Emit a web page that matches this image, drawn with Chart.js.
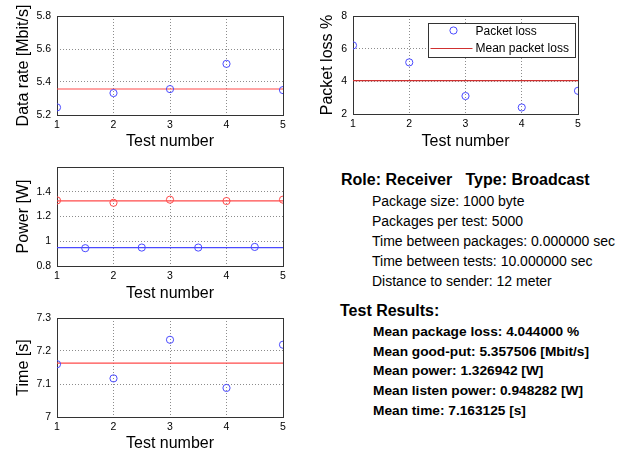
<!DOCTYPE html>
<html>
<head>
<meta charset="utf-8">
<script src="https://cdn.jsdelivr.net/npm/chart.js@4.4.1/dist/chart.umd.min.js"></script>
<style>
  html, body { margin: 0; padding: 0; background: #fff; }
  #root { position: relative; width: 644px; height: 453px; overflow: hidden; background: #fff;
          font-family: Arial, "Liberation Sans", Helvetica, sans-serif; color: #000; }
  .pane { position: absolute; }
  .txt { position: absolute; white-space: pre; line-height: 20px; }
  .h { font-weight: bold; font-size: 16px; }
  .p { font-size: 14px; }
  .b { font-weight: bold; font-size: 13.7px; }
</style>
</head>
<body>
<div id="root">
  <div class="pane" style="left:0;top:0;width:300px;height:155px"><canvas id="c1" width="300" height="155"></canvas></div>
  <div class="pane" style="left:300px;top:0;width:300px;height:155px"><canvas id="c2" width="300" height="155"></canvas></div>
  <div class="pane" style="left:0;top:152px;width:300px;height:155px"><canvas id="c3" width="300" height="155"></canvas></div>
  <div class="pane" style="left:0;top:302px;width:300px;height:151px"><canvas id="c4" width="300" height="151"></canvas></div>

  <div class="txt h" style="left:341px;top:170px">Role: Receiver   Type: Broadcast</div>
  <div class="txt p" style="left:372px;top:191px">Package size: 1000 byte</div>
  <div class="txt p" style="left:372px;top:211px">Packages per test: 5000</div>
  <div class="txt p" style="left:372px;top:231px">Time between packages: 0.000000 sec</div>
  <div class="txt p" style="left:372px;top:251px">Time between tests: 10.000000 sec</div>
  <div class="txt p" style="left:372px;top:271px">Distance to sender: 12 meter</div>

  <div class="txt h" style="left:340px;top:301px">Test Results:</div>
  <div class="txt b" style="left:373px;top:322px">Mean package loss: 4.044000 %</div>
  <div class="txt b" style="left:373px;top:342px">Mean good-put: 5.357506 [Mbit/s]</div>
  <div class="txt b" style="left:373px;top:361px">Mean power: 1.326942 [W]</div>
  <div class="txt b" style="left:373px;top:381px">Mean listen power: 0.948282 [W]</div>
  <div class="txt b" style="left:373px;top:401px">Mean time: 7.163125 [s]</div>
</div>
<script>
// ---- data ----
const testNumbers = [1, 2, 3, 4, 5];
const dataRate = [5.246, 5.333, 5.357, 5.510, 5.351];
const meanDataRate = 5.357506;
const packetLoss = [6.20, 5.16, 3.10, 2.40, 3.42];
const meanPacketLoss = 4.044;
const power = [1.330, 1.311, 1.336, 1.325, 1.336];
const meanPower = 1.326942;
const listenX = [1.5, 2.5, 3.5, 4.5];
const listenPower = [0.944, 0.949, 0.949, 0.954];
const meanListenPower = 0.948282;
const timeS = [7.160, 7.117, 7.234, 7.088, 7.219];
const meanTime = 7.163125;

const FONT = 'Arial, "Liberation Sans", Helvetica, sans-serif';
const BLUE = '#4a4aff';
const RED = '#ff4a4a';

function pts(xs, ys) { return xs.map((x, i) => ({ x: x, y: ys[i] })); }
function meanLine(v) { return [{ x: testNumbers[0], y: v }, { x: testNumbers[testNumbers.length - 1], y: v }]; }
function markers(label, xs, ys, color) {
  return { label: label, data: pts(xs, ys), showLine: false, pointStyle: 'circle', pointRadius: 3.6,
           pointHoverRadius: 3.6, borderColor: color, backgroundColor: 'rgba(0,0,0,0)', pointBorderWidth: 1, borderWidth: 1 };
}
function line(label, v, color) {
  return { label: label, data: meanLine(v), showLine: true, pointRadius: 0, borderColor: color,
           borderWidth: 1.2, backgroundColor: color };
}

const boxPlugin = {
  id: 'box',
  beforeDatasetsDraw(chart) {
    const a = chart.chartArea, ctx = chart.ctx;
    ctx.save();
    ctx.strokeStyle = '#333';
    ctx.lineWidth = 1;
    ctx.strokeRect(Math.round(a.left) + 0.5, Math.round(a.top) + 0.5,
                   Math.round(a.right) - Math.round(a.left), Math.round(a.bottom) - Math.round(a.top));
    ctx.restore();
  }
};

const legendPlugin = {
  id: 'boxLegend',
  afterDatasetsDraw(chart, args, opts) {
    if (!opts || !opts.show) return;
    const a = chart.chartArea, ctx = chart.ctx;
    const w = 147, h = 34;
    const left = Math.round(a.right - 3 - w) + 0.5, top = Math.round(a.top + 7) + 0.5;
    ctx.save();
    ctx.fillStyle = '#fff';
    ctx.fillRect(left, top, w, h);
    ctx.strokeStyle = '#333';
    ctx.lineWidth = 1;
    ctx.strokeRect(left, top, w, h);
    const ds = chart.data.datasets;
    ctx.font = '12px ' + FONT;
    ctx.fillStyle = '#000';
    ctx.textBaseline = 'middle';
    // item 1: marker
    ctx.beginPath();
    ctx.strokeStyle = ds[0].borderColor;
    ctx.arc(left + 25, top + 7, 3.6, 0, Math.PI * 2);
    ctx.stroke();
    ctx.fillText(ds[0].label, left + 47, top + 8);
    // item 2: line
    ctx.beginPath();
    ctx.strokeStyle = ds[1].borderColor;
    ctx.lineWidth = 1.2;
    ctx.moveTo(left + 2, top + 25);
    ctx.lineTo(left + 44, top + 25);
    ctx.stroke();
    ctx.fillText(ds[1].label, left + 47, top + 25);
    ctx.restore();
  }
};

function fmt(v) { return String(Number(v.toFixed(3))); }

function makeChart(id, c) {
  const W = c.W, H = c.H;
  return new Chart(document.getElementById(id), {
    type: 'scatter',
    data: { datasets: c.datasets },
    plugins: [boxPlugin, legendPlugin],
    options: {
      responsive: false,
      animation: false,
      events: [],
      layout: { padding: { top: c.area.top, right: W - c.area.right, left: 0, bottom: 0 } },
      plugins: { legend: { display: false }, tooltip: { enabled: false }, boxLegend: { show: !!c.legend } },
      scales: {
        x: {
          type: 'linear', min: 1, max: 5,
          afterFit(s) { s.height = H - c.area.bottom; },
          ticks: { stepSize: 1, padding: 4, color: '#000', font: { family: FONT, size: 10.5 }, callback: fmt },
          grid: { color: '#8c8c8c', lineWidth: 1, drawTicks: false },
          border: { display: false, dash: [1, 2] },
          title: { display: true, text: 'Test number', color: '#000', font: { family: FONT, size: 16 },
                   padding: { top: 0, bottom: c.xTitlePad } }
        },
        y: {
          type: 'linear', min: c.yMin, max: c.yMax,
          afterFit(s) { s.width = c.area.left; },
          ticks: { stepSize: c.yStep, padding: 6, color: '#000', font: { family: FONT, size: 10.5 },
                   callback: (v) => (c.hideTop && Math.abs(v - c.yMax) < 1e-9) ? '' : fmt(v) },
          grid: { color: '#8c8c8c', lineWidth: 1, drawTicks: false },
          border: { display: false, dash: [1, 2] },
          title: { display: true, text: c.yTitle, color: '#000', font: { family: FONT, size: 16 },
                   padding: { top: c.yTitlePad, bottom: 0 } }
        }
      }
    }
  });
}

makeChart('c1', {
  W: 300, H: 155, area: { left: 57, right: 283, top: 16, bottom: 115 },
  yMin: 5.2, yMax: 5.8, yStep: 0.2, yTitle: 'Data rate [Mbit/s]', yTitlePad: 14, xTitlePad: 4,
  datasets: [markers('Data rate', testNumbers, dataRate, BLUE), line('Mean data rate', meanDataRate, RED)]
});

makeChart('c2', {
  W: 300, H: 155, area: { left: 53, right: 278, top: 16, bottom: 114 },
  yMin: 2, yMax: 8, yStep: 2, yTitle: 'Packet loss %', yTitlePad: 18, xTitlePad: 4, legend: true,
  datasets: [markers('Packet loss', testNumbers, packetLoss, BLUE), line('Mean packet loss', meanPacketLoss, '#d03030')]
});

makeChart('c3', {
  W: 300, H: 155, area: { left: 57, right: 283, top: 15, bottom: 114 },
  yMin: 0.8, yMax: 1.6, yStep: 0.2, yTitle: 'Power [W]', yTitlePad: 14, xTitlePad: 4, hideTop: true,
  datasets: [markers('Power', testNumbers, power, RED), line('Mean power', meanPower, RED),
             markers('Listen power', listenX, listenPower, BLUE), line('Mean listen power', meanListenPower, BLUE)]
});

makeChart('c4', {
  W: 300, H: 151, area: { left: 57, right: 283, top: 16, bottom: 115 },
  yMin: 7, yMax: 7.3, yStep: 0.1, yTitle: 'Time [s]', yTitlePad: 14, xTitlePad: 0,
  datasets: [markers('Time', testNumbers, timeS, BLUE), line('Mean time', meanTime, RED)]
});
</script>
</body>
</html>
